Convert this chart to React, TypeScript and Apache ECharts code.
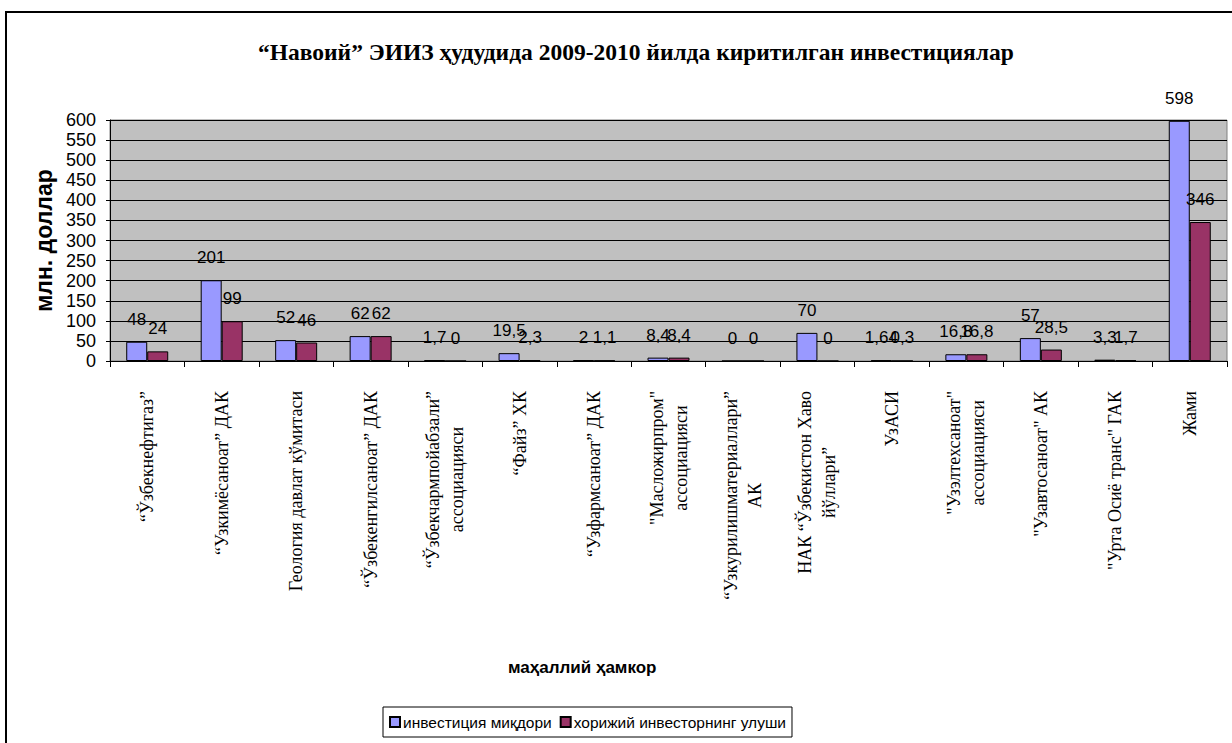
import React, { useEffect, useRef } from "react";
import * as echarts from "echarts";

const categories: string[] = [
  "“Ўзбекнефтигаз”",
  "“Узкимёсаноат” ДАК",
  "Геология давлат кўмитаси",
  "“Ўзбекенгилсаноат” ДАК",
  "“Ўзбекчармпойабзали”\nассоциацияси",
  "“Файз” ХК",
  "“Узфармсаноат” ДАК",
  "\"Масложирпром\"\nассоциацияси",
  "“Узкурилишматериаллари”\nАК",
  "НАК “Ўзбекистон Хаво\nйўллари”",
  "УзАСИ",
  "\"Узэлтехсаноат\"\nассоциацияси",
  "\"Узавтосаноат\" АК",
  "\"Урта Осиё транс\" ГАК",
  "Жами",
];

const investment: number[] = [48, 201, 52, 62, 1.7, 19.5, 2, 8.4, 0, 70, 1.64, 16.8, 57, 3.3, 598];
const foreignShare: number[] = [24, 99, 46, 62, 0, 2.3, 1.1, 8.4, 0, 0, 0.3, 16.8, 28.5, 1.7, 346];

const seriesNames: string[] = ["инвестиция миқдори", "хорижий инвесторнинг улуши"];
const titleText = "“Навоий” ЭИИЗ ҳудудида 2009-2010 йилда киритилган инвестициялар";
const yAxisName = "млн. доллар";
const xAxisName = "маҳаллий ҳамкор";

const SANS = "'Liberation Sans', Arial, sans-serif";
const SERIF = "'Liberation Serif', 'Times New Roman', serif";

export default function App() {
  const ref = useRef<HTMLDivElement>(null);
  useEffect(() => {
    if (!ref.current) return;
    const chart = echarts.init(ref.current, null, { renderer: "svg" });
    const labelFmt = (p: any) => String(p.value).replace(".", ",");
    const labelStyle = {
      show: true,
      position: "top" as const,
      distance: 14,
      color: "#000",
      fontFamily: SANS,
      fontSize: 17,
      formatter: labelFmt,
    };
    chart.setOption({
      animation: false,
      backgroundColor: "#fff",
      title: [
        {
          text: titleText,
          left: 253,
          top: 35,
          textStyle: { fontFamily: SERIF, fontWeight: "bold", fontSize: 23.5, color: "#000" },
        },
        {
          text: xAxisName,
          left: 503,
          top: 654,
          textStyle: { fontFamily: SANS, fontWeight: "bold", fontSize: 17, color: "#000" },
        },
      ],
      graphic: [
        {
          type: "rect",
          shape: { x: 6, y: 12, width: 1300, height: 800 },
          style: { fill: "none", stroke: "#000", lineWidth: 2 },
          silent: true,
        },
      ],
      legend: {
        left: 383,
        top: 707,
        orient: "horizontal",
        itemWidth: 10,
        itemHeight: 10,
        itemGap: 8,
        padding: [7, 6, 7, 6],
        borderColor: "#000",
        borderWidth: 1,
        icon: "rect",
        textStyle: { fontFamily: SANS, fontSize: 15.5, color: "#000", padding: [0, 0, 0, -2] },
        data: seriesNames,
      },
      grid: {
        left: 110,
        right: 5,
        top: 120,
        bottom: 382,
        show: true,
        backgroundColor: "#c0c0c0",
        borderColor: "#808080",
        borderWidth: 1,
        containLabel: false,
      },
      xAxis: {
        type: "category",
        data: categories,
        axisLine: { lineStyle: { color: "#000", width: 1 } },
        axisTick: { show: true, length: 6, lineStyle: { color: "#000" }, alignWithLabel: false },
        axisLabel: {
          interval: 0,
          rotate: 90,
          margin: 30,
          color: "#000",
          fontFamily: SERIF,
          fontSize: 18,
          formatter: (v: string) =>
            v
              .split("\n")
              .map((l) => `{c|${l}}`)
              .join("\n"),
          rich: {
            c: {
              align: "center",
              fontFamily: SERIF,
              fontSize: 18,
              lineHeight: 24,
              color: "#000",
            },
          },
        },
      },
      yAxis: {
        type: "value",
        min: 0,
        max: 600,
        interval: 50,
        name: yAxisName,
        nameLocation: "middle",
        nameGap: 55,
        nameRotate: 90,
        nameTextStyle: { fontFamily: SANS, fontWeight: "bold", fontSize: 23, color: "#000" },
        axisLine: { show: true, lineStyle: { color: "#000", width: 1 } },
        axisTick: { show: true, length: 4, lineStyle: { color: "#000" } },
        axisLabel: { color: "#000", fontFamily: SANS, fontSize: 18, margin: 14 },
        splitLine: { show: true, lineStyle: { color: "#000", width: 1 } },
      },
      series: [
        {
          name: seriesNames[0],
          type: "bar",
          data: investment,
          barWidth: 21,
          barGap: "0%",
          itemStyle: { color: "#9999ff", borderColor: "#000", borderWidth: 1 },
          label: labelStyle,
        },
        {
          name: seriesNames[1],
          type: "bar",
          data: foreignShare,
          barWidth: 21,
          barGap: "0%",
          itemStyle: { color: "#993366", borderColor: "#000", borderWidth: 1 },
          label: labelStyle,
        },
      ],
    });
    return () => chart.dispose();
  }, []);
  return (
    <div
      ref={ref}
      style={{ position: "absolute", left: 0, top: 0, width: 1232, height: 743, background: "#fff" }}
    />
  );
}
